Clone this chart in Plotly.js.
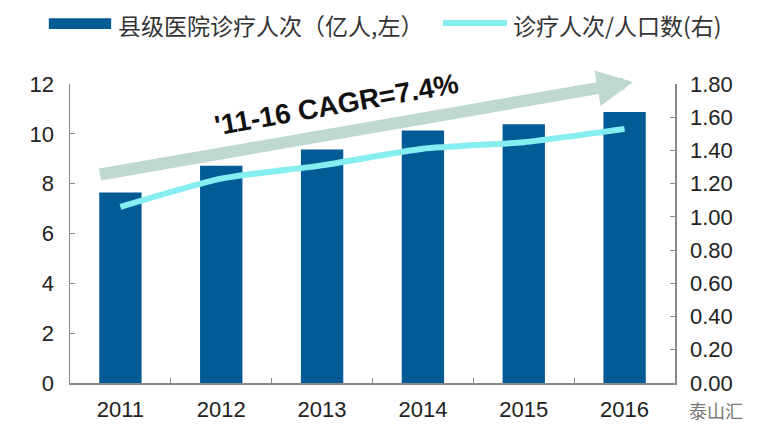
<!DOCTYPE html>
<html>
<head>
<meta charset="utf-8">
<script src="https://cdn.plot.ly/plotly-3.0.1.min.js"></script>
<style>
  html, body { margin: 0; padding: 0; background: #fff; }
  #graph { width: 767px; height: 445px; }
</style>
</head>
<body>
<div id="graph"></div>
<script>
// values
const years = ['2011', '2012', '2013', '2014', '2015', '2016'];
const visits = [7.65, 8.72, 9.37, 10.13, 10.38, 10.88];     // 亿人, left axis
const perCapita = [1.06, 1.23, 1.31, 1.41, 1.45, 1.53];     // right axis
const barName = '县级医院诊疗人次（亿人,左）';
const lineName = '诊疗人次/人口数(右)';
const cagrText = "'11-16 CAGR=7.4%";

const barColor = '#035b96';
const lineColor = '#84eef0';
const arrowColor = '#bfd9d2';
const axisColor = '#8a8a8a';
const tickFont = {family: 'Liberation Sans, Arial, sans-serif', size: 22, color: '#222'};
const cjkFont = {family: 'Noto Sans CJK SC, sans-serif', size: 23, color: '#333'};

var bars = {
    x: years,
    y: visits,
    name: barName,
    type: 'bar',
    marker: {color: barColor},
    hoverinfo: 'none'
};

var line = {
    x: years,
    y: perCapita,
    yaxis: 'y2',
    name: lineName,
    type: 'scatter',
    mode: 'lines',
    line: {color: lineColor, width: 6, shape: 'spline', smoothing: 0.6},
    hoverinfo: 'none'
};

var layout = {
    width: 767,
    height: 445,
    margin: {l: 70, r: 92, t: 84, b: 62},
    paper_bgcolor: '#fff',
    plot_bgcolor: '#fff',
    showlegend: false,
    bargap: 0.58,
    xaxis: {
        type: 'category',
        showline: true,
        linecolor: axisColor,
        linewidth: 1.5,
        ticks: 'inside',
        tickson: 'boundaries',
        ticklen: 5,
        tickcolor: axisColor,
        tickfont: tickFont,
        ticklabelstandoff: 6,
        showgrid: false,
        zeroline: false
    },
    yaxis: {
        range: [0, 12],
        dtick: 2,
        showline: true,
        linecolor: axisColor,
        linewidth: 1.5,
        ticks: 'inside',
        ticklen: 5,
        tickcolor: axisColor,
        tickfont: tickFont,
        ticklabelstandoff: 10,
        showgrid: false,
        zeroline: false
    },
    yaxis2: {
        range: [0, 1.8],
        dtick: 0.2,
        tickformat: '.2f',
        overlaying: 'y',
        side: 'right',
        showline: true,
        linecolor: axisColor,
        linewidth: 1.5,
        ticks: 'inside',
        ticklen: 5,
        tickcolor: axisColor,
        tickfont: tickFont,
        ticklabelstandoff: 9,
        showgrid: false,
        zeroline: false
    },
    shapes: [
        // legend swatches
        {type: 'rect', xref: 'paper', yref: 'paper', x0: -0.035, x1: 0.068, y0: 1.184, y1: 1.22,
         fillcolor: barColor, line: {width: 0}},
        {type: 'line', xref: 'paper', yref: 'paper', x0: 0.6165, x1: 0.7223, y0: 1.204, y1: 1.204,
         line: {color: lineColor, width: 6}}
    ],
    annotations: [
        {xref: 'paper', yref: 'paper', x: 0.076, y: 1.197, xanchor: 'left', yanchor: 'middle',
         text: barName, showarrow: false, font: cjkFont},
        {xref: 'paper', yref: 'paper', x: 0.729, y: 1.197, xanchor: 'left', yanchor: 'middle',
         text: lineName, showarrow: false, font: cjkFont},
        // growth arrow
        {xref: 'paper', yref: 'paper', x: 0.9306, y: 1.0067, text: ' ', showarrow: true,
         ax: -536, ay: 93, arrowhead: 2, arrowsize: 0.6, arrowwidth: 12, arrowcolor: arrowColor,
         standoff: 0, startstandoff: 0},
        {xref: 'paper', yref: 'paper', x: 0.4413, y: 0.93, xanchor: 'center', yanchor: 'middle',
         text: '<b>' + cagrText + '</b>', textangle: -10, showarrow: false,
         font: {family: 'Liberation Sans, Arial, sans-serif', size: 28, color: '#111'}},
        // watermark
        {xref: 'paper', yref: 'paper', x: 1.02, y: -0.09, xanchor: 'left', yanchor: 'middle',
         text: '泰山汇', showarrow: false,
         font: {family: 'Noto Sans CJK SC, sans-serif', size: 18, color: '#777'}}
    ]
};

Plotly.newPlot('graph', [bars, line], layout, {staticPlot: true});
</script>
</body>
</html>
